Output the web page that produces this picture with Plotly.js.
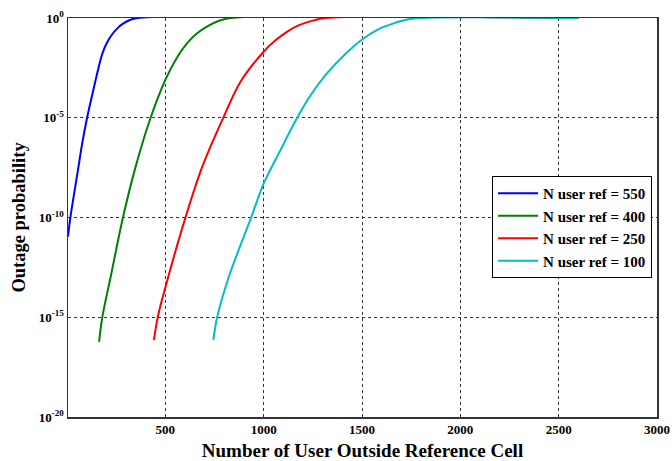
<!DOCTYPE html>
<html>
<head>
<meta charset="utf-8">
<script src="https://cdn.plot.ly/plotly-3.0.1.min.js"></script>
<style>html,body{margin:0;padding:0;background:#fff;}#chart{width:672px;height:461px;}</style>
</head>
<body>
<div id="chart"></div>
<script>
const seriesNames = ['N user ref = 550', 'N user ref = 400', 'N user ref = 250', 'N user ref = 100'];
const seriesColors = ['#0000ff', '#008000', '#ff0000', '#00bfbf'];

const x550 = [5, 17, 56, 77, 102, 142, 160, 181, 205, 231, 256, 281, 320, 358, 2600];
const y550 = [1.10e-11, 1e-10, 2.51e-8, 5.01e-7, 1e-5, 5.50e-4, 3.16e-3, 0.0178, 0.0631, 0.158, 0.302, 0.490, 0.794, 1, 1];

const x400 = [163, 180, 222, 285, 349, 425, 500, 555, 612, 660, 713, 770, 832, 2600];
const y400 = [5.89e-17, 1.07e-15, 1.07e-13, 1.05e-10, 3.55e-8, 1e-5, 7.94e-4, 8.91e-3, 0.0562, 0.166, 0.380, 0.708, 1, 1];

const x250 = [442, 462, 501, 603, 688, 795, 883, 1001, 1060, 1120, 1180, 1250, 1314, 2600];
const y250 = [7.24e-17, 1.07e-15, 3.39e-14, 1.05e-10, 3.55e-8, 1.02e-5, 6.61e-4, 0.0209, 0.0759, 0.209, 0.437, 0.741, 1, 1];

const x100 = [744, 764, 823, 937, 1001, 1086, 1171, 1240, 1315, 1410, 1504, 1580, 1661, 1730, 1797, 2600];
const y100 = [7.24e-17, 1.07e-15, 1.07e-13, 1.05e-10, 5.25e-9, 2.45e-7, 1.02e-5, 1.41e-4, 1.41e-3, 0.0141, 0.0891, 0.263, 0.537, 0.832, 1, 1];

const xTicks = [500, 1000, 1500, 2000, 2500, 3000];
const yTickVals = [1e-20, 1e-15, 1e-10, 1e-5, 1];
const yTickText = ['10<sup>-20</sup>', '10<sup>-15</sup>', '10<sup>-10</sup>', '10<sup>-5</sup>', '10<sup>0</sup>'];

const xs = [x550, x400, x250, x100];
const ys = [y550, y400, y250, y100];

const traces = xs.map((x, i) => ({
  x: x, y: ys[i], type: 'scatter', mode: 'lines', name: seriesNames[i],
  line: {color: seriesColors[i], width: 2, shape: 'spline', smoothing: 1}
}));

const fontBase = {family: '"Liberation Serif", "Times New Roman", serif', color: '#000'};

const axisCommon = {
  showline: true, mirror: true, linecolor: '#333', linewidth: 1.5,
  showgrid: true, gridcolor: '#333', gridwidth: 1, griddash: '3px,3px',
  zeroline: false, ticks: '',
  tickfont: Object.assign({}, fontBase, {size: 13, weight: 'bold'})
};

const layout = {
  width: 672, height: 461,
  margin: {l: 67.5, r: 15, t: 18, b: 44},
  paper_bgcolor: '#fff', plot_bgcolor: '#fff',
  showlegend: true,
  xaxis: Object.assign({}, axisCommon, {
    range: [5, 3000], tickvals: xTicks, ticktext: xTicks.map(String),
    title: {text: 'Number of User Outside Reference Cell', standoff: 7,
      font: Object.assign({}, fontBase, {size: 19, weight: 'bold'})}
  }),
  yaxis: Object.assign({}, axisCommon, {
    type: 'log', range: [-20, 0], tickvals: yTickVals, ticktext: yTickText,
    title: {text: 'Outage probability', standoff: 8,
      font: Object.assign({}, fontBase, {size: 18.5, weight: 'bold'})}
  }),
  legend: {
    x: 0.72, y: 0.604, xanchor: 'left', yanchor: 'top',
    bgcolor: '#fff', bordercolor: '#000', borderwidth: 1,
    font: Object.assign({}, fontBase, {size: 15, weight: 'bold'}),
    tracegroupgap: 0, itemwidth: 40
  }
};

Plotly.newPlot('chart', traces, layout, {displayModeBar: false, staticPlot: true});
</script>
</body>
</html>
